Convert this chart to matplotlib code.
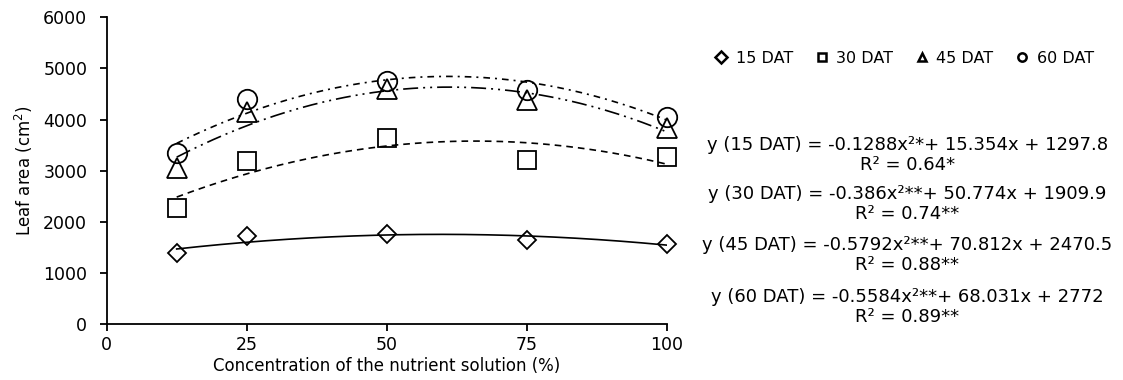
import numpy as np
import matplotlib.pyplot as plt
from matplotlib.lines import Line2D

plt.rcParams['font.family'] = 'DejaVu Sans'

# concentração da solução nutritiva (%)
conc = [12.5, 25, 50, 75, 100]

# área foliar (cm²) por época
dat15 = [1383, 1722, 1761, 1644, 1565]
dat30 = [2264, 3196, 3634, 3209, 3262]
dat45 = [3047, 4155, 4593, 4383, 3830]
dat60 = [3340, 4397, 4755, 4579, 4057]

# coeficientes das regressões (a, b, c)
coef15 = [-0.1288, 15.354, 1297.8]
coef30 = [-0.386, 50.774, 1909.9]
coef45 = [-0.5792, 70.812, 2470.5]
coef60 = [-0.5584, 68.031, 2772]

labels = ['15 DAT', '30 DAT', '45 DAT', '60 DAT']
equations = ['y (15 DAT) = -0.1288x²*+ 15.354x + 1297.8\nR² = 0.64*',
             'y (30 DAT) = -0.386x²**+ 50.774x + 1909.9\nR² = 0.74**',
             'y (45 DAT) = -0.5792x²**+ 70.812x + 2470.5\nR² = 0.88**',
             'y (60 DAT) = -0.5584x²**+ 68.031x + 2772\nR² = 0.89**']

series = [dat15, dat30, dat45, dat60]
coefs = [coef15, coef30, coef45, coef60]
markers = ['D', 's', '^', 'o']
msizes = [9.5, 13, 14, 14]
estilos = ['-', (0, (4, 3)), (0, (9, 3, 1.2, 3, 1.2, 3)), (0, (4, 3, 1.2, 3))]

fig = plt.figure(figsize=(11.23, 3.8), dpi=100)
ax = fig.add_axes([0.095, 0.147, 0.4987, 0.8075])

xx = np.linspace(12.5, 100, 200)
for ys, cf, m, ms, ls in zip(series, coefs, markers, msizes, estilos):
    ax.plot(conc, ys, linestyle='none', marker=m, markersize=ms, clip_on=False,
            markerfacecolor='none', markeredgecolor='black', markeredgewidth=1.3)
    ax.plot(xx, np.polyval(cf, xx), color='black', linewidth=1.2, linestyle=ls)

ax.set_xlim(0, 100)
ax.set_ylim(0, 6000)
ax.set_xticks([0, 25, 50, 75, 100])
ax.set_yticks(range(0, 6001, 1000))
ax.spines['top'].set_visible(False)
ax.spines['right'].set_visible(False)
ax.spines['left'].set_linewidth(1.3)
ax.spines['bottom'].set_linewidth(1.3)
ax.tick_params(direction='out', length=5, width=1.3, labelsize=12.5, colors='black')
ax.tick_params(axis='y', pad=9)
ax.set_xlabel('Concentration of the nutrient solution (%)', fontsize=12, labelpad=2)
ax.set_ylabel('Leaf area (cm$^2$)', fontsize=12, labelpad=6)

handles = [Line2D([], [], linestyle='none', marker=m, markersize=6,
                  markerfacecolor='none', markeredgecolor='black', markeredgewidth=1.8)
           for m in markers]
fig.legend(handles, labels, loc='center', bbox_to_anchor=(0.806, 0.847), ncol=4,
           frameon=False, fontsize=11.5, handlelength=0.6, handletextpad=0.6,
           columnspacing=1.5)

for i, txt in enumerate(equations):
    y = [155, 204, 255, 307][i]
    fig.text(0.808, 1 - y / 380, txt, ha='center', va='center',
             fontsize=13, linespacing=1.15)

fig.savefig('out.png', dpi=100)
